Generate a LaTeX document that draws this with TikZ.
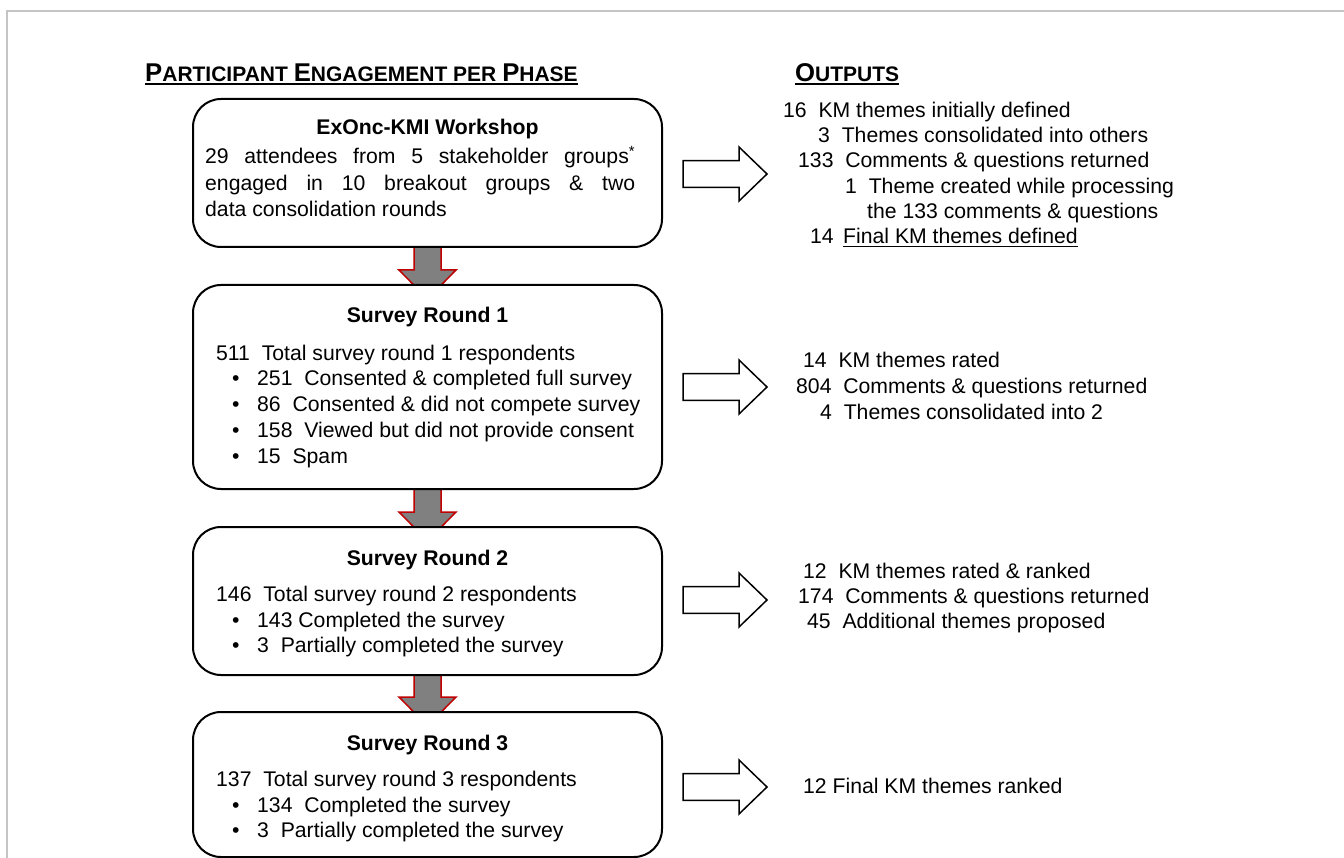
\documentclass[tikz,border=0pt]{standalone}
\usepackage{fontspec}
\setmainfont{Liberation Sans}
\usetikzlibrary{backgrounds}
\definecolor{framegray}{HTML}{C4C4C4}
\definecolor{arrred}{HTML}{C00000}
\definecolor{arrgray}{HTML}{808080}
\newcommand\body{\fontsize{21.2pt}{25.5pt}\selectfont}
\newcommand\dsp{\hspace{0.556em}}
\newcommand\BigC[1]{{\fontsize{25.7pt}{30pt}\selectfont #1}}
\newcommand\SmC[1]{{\fontsize{21pt}{25pt}\selectfont #1}}
\tikzset{
  box/.style={draw=black, line width=2pt, rounded corners=28pt, fill=white,
              minimum width=469pt, inner sep=0pt, outer sep=0pt},
  txt/.style={anchor=base west, inner sep=0pt, font=\body},
  ttl/.style={anchor=base, inner sep=0pt, font=\body\bfseries},
  hdr/.style={anchor=base west, inner sep=0pt, font=\bfseries\fontsize{21pt}{25pt}\selectfont},
  downarr/.style={draw=arrred, fill=arrgray, line width=1.5pt},
  rightarr/.style={draw=black, fill=white, line width=1.5pt, line join=miter},
}
\newcommand\bitem[3]{%
  \node[txt] (#1b) at (232,#2) {\textbullet};
  \node[txt] (#1) at (257,#2) {#3};}
\begin{document}
\begin{tikzpicture}[x=1pt,y=-1pt]
\useasboundingbox (0,0) rectangle (1344,858);
\draw[framegray, line width=1.5pt] (7,860) -- (7,11) -- (1346,11);

% headers
\node[hdr] (hdrL) at (145,82) {\BigC{P}\SmC{ARTICIPANT} \BigC{E}\SmC{NGAGEMENT} \SmC{PER} \BigC{P}\SmC{HASE}};
\draw[line width=2pt] ([yshift=-2.5pt]hdrL.base west) -- ([yshift=-2.5pt]hdrL.base east);
\node[hdr] (hdrR) at (795,82) {\BigC{O}\SmC{UTPUTS}};
\draw[line width=2pt] ([yshift=-2.5pt]hdrR.base west) -- ([yshift=-2.5pt]hdrR.base east);

% boxes
\node[box, minimum height=148pt] (box1) at (427.5,173) {};
\node[box, minimum height=204pt] (box2) at (427.5,387) {};
\node[box, minimum height=148pt] (box3) at (427.5,601) {};
\node[box, minimum height=145pt] (box4) at (427.5,784.5) {};

% down arrows
\begin{scope}[on background layer]
\foreach \a/\b in {box1/box2, box2/box3, box3/box4}{
  \draw[downarr] ([xshift=-13.5pt,yshift=3pt]\a.south) -- ([xshift=-13.5pt,yshift=15pt]\b.north)
     -- ++(-15,0) -- ([yshift=-14pt]\b.north) -- ([xshift=28.5pt,yshift=15pt]\b.north)
     -- ++(-15,0) -- ([xshift=13.5pt,yshift=3pt]\a.south) -- cycle;
}
\end{scope}

% right arrows
\foreach \n/\s in {box1/-1, box2/0, box3/1, box4/-2.5}{
  \draw[rightarr] ([xshift=21pt,yshift=\s pt+13.3pt]\n.east) -- ++(56,0) -- ++(0,-13.7)
     -- ++(28,27) -- ++(-28,27) -- ++(0,-13.7) -- ++(-56,0) -- cycle;
}

% box 1
\node[ttl] (t1) at (427.5,135) {ExOnc-KMI Workshop};
\node[anchor=base west, inner sep=0pt] (b1) at (205,164) {\parbox[t]{430pt}{\body\baselineskip=26.5pt
 29 attendees from 5 stakeholder groups\textsuperscript{*}\linebreak
 engaged in 10 breakout groups \& two\linebreak
 data consolidation rounds}};

% box 2
\node[ttl] (t2) at (427.5,323) {Survey Round 1};
\node[txt] (b2) at (216,361) {511\dsp Total survey round 1 respondents};
\bitem{b2a}{386}{251\dsp Consented \& completed full survey}
\bitem{b2b}{412}{86\dsp Consented \& did not compete survey}
\bitem{b2c}{437}{158\dsp Viewed but did not provide consent}
\bitem{b2d}{463}{15\dsp Spam}

% box 3
\node[ttl] (t3) at (427.5,565) {Survey Round 2};
\node[txt] (b3) at (216,601) {146\dsp Total survey round 2 respondents};
\bitem{b3a}{627}{143 Completed the survey}
\bitem{b3b}{652}{3\dsp Partially completed the survey}

% box 4
\node[ttl] (t4) at (427.5,750) {Survey Round 3};
\node[txt] (b4) at (216,786) {137\dsp Total survey round 3 respondents};
\bitem{b4a}{812}{134\dsp Completed the survey}
\bitem{b4b}{837}{3\dsp Partially completed the survey}

% outputs 1
\node[txt] (o1a) at (783,118) {16\dsp KM themes initially defined};
\node[txt] (o1b) at (818,143) {3\dsp Themes consolidated into others};
\node[txt] (o1c) at (798,168) {133\dsp Comments \& questions returned};
\node[txt] (o1d) at (845,194) {1\dsp Theme created while processing};
\node[txt] (o1e) at (867,219) {the 133 comments \& questions};
\node[txt] (o1f) at (810,244) {14};
\node[txt] (o1g) at (843,244) {Final KM themes defined};
\draw[line width=1.2pt] ([yshift=-2.5pt]o1g.base west) -- ([yshift=-2.5pt]o1g.base east);

% outputs 2
\node[txt] (o2a) at (803,368) {14\dsp KM themes rated};
\node[txt] (o2b) at (796,394) {804\dsp Comments \& questions returned};
\node[txt] (o2c) at (820,420) {4\dsp Themes consolidated into 2};

% outputs 3
\node[txt] (o3a) at (803,578) {12\dsp KM themes rated \& ranked};
\node[txt] (o3b) at (798,603) {174\dsp Comments \& questions returned};
\node[txt] (o3c) at (807,628) {45\dsp Additional themes proposed};

% outputs 4
\node[txt] (o4a) at (803,793) {12 Final KM themes ranked};
\end{tikzpicture}
\end{document}
